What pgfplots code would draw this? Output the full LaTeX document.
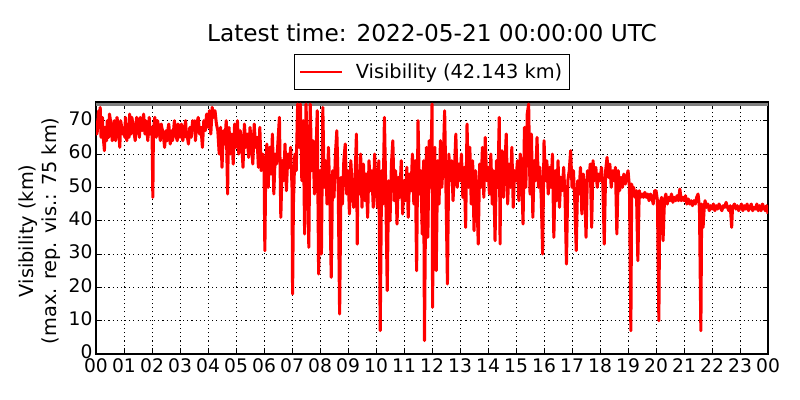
\documentclass[border=0pt]{standalone}
\usepackage{fontspec}
\setmainfont{DejaVu Sans}
\usepackage{pgfplots}
\pgfplotsset{compat=1.18}
\usepackage{pgfplotstable}
\pgfplotstableread{
x y
0.00 70
0.03 66
0.05 67
0.08 72
0.10 73
0.13 69
0.15 74
0.18 65
0.20 68
0.23 71
0.25 66
0.30 61
0.33 68
0.35 67
0.38 64
0.40 70
0.45 65
0.48 72
0.50 71
0.55 68
0.58 64
0.60 66
0.65 70
0.70 64
0.73 69
0.75 71
0.80 68
0.85 62
0.88 70
0.90 69
0.95 66
1.00 68
1.03 65
1.05 71
1.10 64
1.15 69
1.18 65
1.20 72
1.25 66
1.28 71
1.30 70
1.35 67
1.40 64
1.43 69
1.45 71
1.50 68
1.55 65
1.58 71
1.60 70
1.65 67
1.70 72
1.75 66
1.78 70
1.80 69
1.85 64
1.90 71
1.93 66
1.95 68
2.00 68
2.03 47
2.05 67
2.10 71
2.15 65
2.18 70
2.20 70
2.25 67
2.30 64
2.33 69
2.35 68
2.40 66
2.45 62
2.50 67
2.55 64
2.58 68
2.60 69
2.65 63
2.70 67
2.73 64
2.75 65
2.80 70
2.85 66
2.90 64
2.93 69
2.95 68
3.00 65
3.05 69
3.10 64
3.15 67
3.20 70
3.23 65
3.25 66
3.30 63
3.35 68
3.40 65
3.45 70
3.50 67
3.53 70
3.55 64
3.60 69
3.65 71
3.70 66
3.75 68
3.80 62
3.85 70
3.90 67
3.95 72
4.00 68
4.05 73
4.10 66
4.15 74
4.20 71
4.25 73
4.30 69
4.35 67
4.40 60
4.45 68
4.50 56
4.55 67
4.60 63
4.65 70
4.70 48
4.72 62
4.75 68
4.80 60
4.85 66
4.90 57
4.95 69
5.00 62
5.05 70
5.10 60
5.15 67
5.20 64
5.25 56
5.30 69
5.35 62
5.40 66
5.45 59
5.50 68
5.55 63
5.60 57
5.65 69
5.70 62
5.75 65
5.80 56
5.85 68
5.90 55
5.95 60
6.00 58
6.03 31
6.06 55
6.10 63
6.15 50
6.20 62
6.25 54
6.30 66
6.35 48
6.40 60
6.45 57
6.50 64
6.55 71
6.60 41
6.65 58
6.70 52
6.75 63
6.80 49
6.85 60
6.90 56
6.95 62
7.00 50
7.02 18
7.05 45
7.10 60
7.15 55
7.20 75
7.25 62
7.30 75
7.35 52
7.40 70
7.45 36
7.50 75
7.55 60
7.60 32
7.65 75
7.70 55
7.75 64
7.80 48
7.85 58
7.90 73
7.95 24
8.00 55
8.05 30
8.10 74
8.15 50
8.20 58
8.25 45
8.30 62
8.35 48
8.40 23
8.45 55
8.50 47
8.55 60
8.60 67
8.65 50
8.70 12
8.75 53
8.80 45
8.85 58
8.90 63
8.95 48
9.00 55
9.05 42
9.10 58
9.15 50
9.20 44
9.25 52
9.30 66
9.33 33
9.35 55
9.40 48
9.45 60
9.50 44
9.55 57
9.60 46
9.65 54
9.70 41
9.75 58
9.80 49
9.85 55
9.90 44
9.95 60
10.00 50
10.05 44
10.10 58
10.15 7
10.20 55
10.25 45
10.30 71
10.35 48
10.40 19
10.45 52
10.50 40
10.55 57
10.60 64
10.65 46
10.70 55
10.75 39
10.80 53
10.85 47
10.90 58
10.95 42
11.00 52
11.05 46
11.10 56
11.15 41
11.20 54
11.25 49
11.30 60
11.35 45
11.40 58
11.45 25
11.50 70
11.55 48
11.60 55
11.65 36
11.70 58
11.73 4
11.77 45
11.80 62
11.85 35
11.90 64
11.95 50
12.00 75
12.02 14
12.05 55
12.10 62
12.15 25
12.20 58
12.25 45
12.30 64
12.35 50
12.40 58
12.45 73
12.50 48
12.55 21
12.60 60
12.65 52
12.70 58
12.75 46
12.80 55
12.85 66
12.90 50
12.95 57
13.00 52
13.05 60
13.10 47
13.15 56
13.20 38
13.25 69
13.30 50
13.35 62
13.40 45
13.45 58
13.50 37
13.55 55
13.60 48
13.65 33
13.70 57
13.75 50
13.80 62
13.85 47
13.90 65
13.95 52
14.00 56
14.05 48
14.10 60
14.15 45
14.20 55
14.25 34
14.30 58
14.35 50
14.40 71
14.43 33
14.45 54
14.50 61
14.55 47
14.60 56
14.65 66
14.70 45
14.75 57
14.80 50
14.85 62
14.90 44
14.95 55
15.00 52
15.05 58
15.10 46
15.15 60
15.20 54
15.25 39
15.30 68
15.35 50
15.40 72
15.45 75
15.50 48
15.55 66
15.60 41
15.65 58
15.70 52
15.75 65
15.80 50
15.85 56
15.90 47
15.95 30
16.00 64
16.05 52
16.10 58
16.15 48
16.20 56
16.25 50
16.30 60
16.35 35
16.40 55
16.45 46
16.50 58
16.55 44
16.60 53
16.65 49
16.70 56
16.75 47
16.80 27
16.85 52
16.90 55
16.95 61
17.00 50
17.05 55
17.10 45
17.15 31
17.20 52
17.25 48
17.30 56
17.35 42
17.40 54
17.45 50
17.50 35
17.55 55
17.60 52
17.65 57
17.70 38
17.75 58
17.80 52
17.85 56
17.90 50
17.95 54
18.00 52
18.05 56
18.10 51
18.15 33
18.20 55
18.25 59
18.30 53
18.35 57
18.40 50
18.45 55
18.50 52
18.55 56
18.60 36
18.65 55
18.70 49
18.75 53
18.80 50
18.85 54
18.90 51
18.95 53
19.00 55
19.05 50
19.10 7
19.13 51
19.15 48
19.20 50
19.25 47
19.30 49
19.35 28
19.40 49
19.45 47
19.50 48
19.55 47
19.60 48.5
19.65 47
19.70 48
19.75 46
19.80 48
19.85 47
19.90 45
19.95 49
20.00 49
20.05 46
20.10 10
20.13 45
20.20 47
20.25 34
20.30 46
20.35 48
20.40 45
20.45 47
20.50 46
20.55 48
20.60 45.5
20.65 47
20.70 46
20.75 47.5
20.80 46
20.85 49.5
20.90 46
20.95 47
21.00 46
21.05 47.5
21.10 45
21.15 46.5
21.20 45
21.25 46
21.30 44.5
21.35 46
21.40 45
21.45 47
21.50 48
21.55 44
21.60 7
21.63 45
21.68 38
21.72 44
21.75 46
21.80 44
21.85 45
21.90 43
21.95 44.5
22.00 43.5
22.05 45
22.10 43
22.15 44.5
22.20 43.5
22.25 45
22.30 44
22.35 43
22.40 44.5
22.45 44
22.50 45.5
22.55 44
22.60 43
22.65 44.5
22.70 38
22.73 44
22.80 45
22.85 43.5
22.90 44.5
22.95 43
23.00 44
23.05 45
23.10 43
23.15 44.5
23.20 43.5
23.25 45
23.30 43
23.35 44
23.40 45
23.45 43
23.50 44
23.55 43.5
23.60 45
23.65 43
23.70 44.5
23.75 43
23.80 45
23.85 44
23.90 43
23.95 44.5
24.00 42.1
}\vis
\begin{document}
\begin{tikzpicture}
\begin{axis}[
  scale only axis,
  width=485.7pt, height=182.1pt,
  xmin=0, xmax=24, ymin=0, ymax=75.6,
  xtick={0,1,...,24},
  xticklabels={00,01,02,03,04,05,06,07,08,09,10,11,12,13,14,15,16,17,18,19,20,21,22,23,00},
  ytick={0,10,...,70},
  tick align=inside, tick pos=both,
  major tick length=4pt,
  every tick/.style={black, line width=0.7pt},
  axis line style={black, line width=1pt},
  grid=major,
  major grid style={black, line width=0.6pt, dash pattern=on 0.8pt off 2.2pt},
  tick label style={font=\fontsize{13.5}{16}\selectfont},
  /pgf/number format/assume math mode=true,
  xticklabel style={yshift=-2.5pt, inner ysep=1pt},
  yticklabel style={xshift=1pt, yshift=1.5pt, inner ysep=1pt},
  legend style={at={(0.5,1)}, anchor=south, yshift=8.7pt, draw=black, line width=0.8pt,
    font=\fontsize{14}{16}\selectfont, inner xsep=3pt, inner ysep=4.5pt},
  legend image code/.code={\draw[#1, line width=2pt] (0pt,0pt) -- (30pt,0pt);},
  legend cell align=left,
  clip=true,
]
\addplot[gray, line width=2.2pt, forget plot] coordinates {(0,75) (24,75)};
\addplot[red, line width=2.2pt, line join=round] table[x=x, y=y] {\vis};
\addlegendentry{\hspace{7pt}Visibility (42.143 km)}
\end{axis}
\node[anchor=base, font=\fontsize{16.8}{20}\selectfont] at ([yshift=43.4pt]current axis.north) {Latest time: 2022-05-21 00:00:00 UTC};
\node[rotate=90, align=center, anchor=center, font=\fontsize{14}{16.4}\selectfont] at ([xshift=-40.5pt,yshift=-2pt]current axis.west) {Visibility (km)\\(max. rep. vis.: 75 km)};
\path ([xshift=-69.38pt,yshift=-33.24pt]current axis.south west) rectangle ([xshift=508.78pt,yshift=255.84pt]current axis.south west);
\end{tikzpicture}
\end{document}
